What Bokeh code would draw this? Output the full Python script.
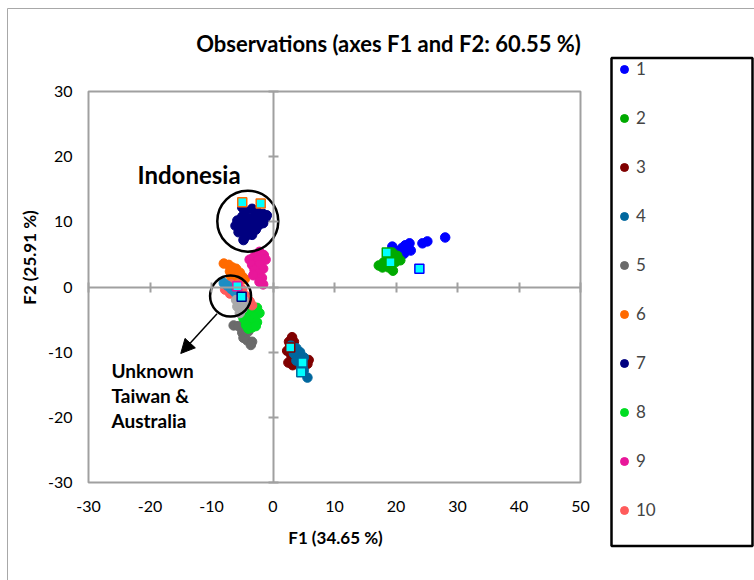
import math
from bokeh.plotting import figure
from bokeh.models import (Range1d, LinearAxis, FixedTicker, Label, Legend, LegendItem,
                          BoxAnnotation, Arrow, NormalHead, CustomJSTickFormatter)
from bokeh.embed import file_html
from bokeh.resources import INLINE

FONT = "Lato"

# ---- axis ticks ----
x_ticks = [-30, -20, -10, 0, 10, 20, 30, 40, 50]
y_ticks = [-30, -20, -10, 0, 10, 20, 30]
X_MIN, X_MAX = -30, 50
Y_MIN, Y_MAX = -30, 30

# ---- observations (F1, F2) per group ----
g1_x = [19.4, 20.2, 21.0, 21.3, 21.5, 22.2, 22.4, 24.3, 25.1, 28.0]
g1_y = [6.2, 5.5, 6.0, 5.1, 6.4, 6.7, 5.6, 6.7, 7.0, 7.6]

g2_x = [17.2, 17.8, 18.0, 18.8, 19.1, 19.4, 19.5, 19.9, 20.2, 20.7]
g2_y = [3.3, 3.0, 3.8, 3.0, 4.3, 5.3, 2.5, 3.8, 4.8, 4.1]

g3_x = [3.1, 2.6, 3.4, 2.3, 3.0, 2.5, 3.2, 5.8, 5.6]
g3_y = [-7.7, -8.4, -8.4, -9.8, -10.6, -11.6, -12.0, -11.2, -11.8]

g4_x = [2.9, 3.8, 4.4, 5.0, 4.0, 3.4, 3.8, 4.6, 5.0, 5.6, 4.4]
g4_y = [-9.0, -9.4, -10.0, -10.8, -10.6, -10.2, -11.3, -12.0, -12.8, -13.9, -11.0]

g5_x = [-6.4, -5.6, -4.6, -4.0, -5.0, -4.8, -4.2, -3.4, -3.6]
g5_y = [-5.9, -6.0, -6.4, -6.8, -7.0, -7.8, -8.2, -8.4, -8.9]

g6_x = [-8.0, -7.2, -6.6, -6.0, -7.0, -6.2, -5.4, -5.0, -4.6, -6.8, -5.8]
g6_y = [3.6, 3.4, 3.0, 2.8, 2.4, 2.0, 2.2, 1.6, 1.2, 1.6, 1.2]

g7_x = [-5.0, -4.6, -3.4, -2.6, -1.6, -1.2, -2.0, -3.0, -4.0, -5.0, -5.8, -6.1, -5.4,
        -4.4, -3.4, -2.4, -1.6, -2.8, -3.8, -4.8, -5.6, -4.4, -3.4, -4.8, -1.0]
g7_y = [12.2, 11.6, 12.0, 11.6, 11.2, 10.6, 10.2, 10.8, 10.6, 10.8, 10.2, 9.4, 9.6,
        9.8, 9.6, 9.4, 9.8, 8.8, 8.6, 8.8, 8.4, 7.8, 8.0, 7.2, 11.0]

g8_x = [-2.6, -3.4, -2.2, -4.2, -3.0, -4.8, -3.8, -2.6, -4.4, -3.4, -4.0, -2.8]
g8_y = [-3.2, -3.6, -4.0, -4.2, -4.6, -4.8, -5.2, -5.4, -5.8, -6.2, -6.4, -6.0]

g9_x = [-2.2, -1.5, -3.1, -3.8, -2.4, -1.2, -3.4, -2.2, -1.6, -3.0, -2.4, -3.2, -1.8, -2.2, -1.6]
g9_y = [5.4, 4.9, 4.6, 4.2, 4.2, 4.2, 3.4, 3.4, 2.8, 2.6, 2.0, 1.8, 1.4, 0.8, 0.4]

g10_x = [-7.8, -7.0, -6.4, -5.8, -5.0, -4.4, -3.8, -3.4, -6.8, -5.6]
g10_y = [-0.4, -1.0, -0.6, -1.0, -0.4, -1.4, -2.2, -2.8, 0.4, 0.4]

# unlabelled groups inside the "Unknown" ring
lb_x = [-8.0, -7.4, -6.8, -6.2]
lb_y = [0.6, 0.2, -0.3, -0.8]
lg_x = [-6.0, -5.4, -4.8, -5.8, -5.0, -5.4, -4.6]
lg_y = [-2.0, -2.4, -2.0, -3.0, -3.4, -4.0, -2.8]

# supplementary observations (square markers) and the group of their outline
sup_x = [-5.0, -2.0, 18.5, 19.1, 23.8, 2.8, 4.8, 4.6, -5.8, -5.1]
sup_y = [13.0, 12.8, 5.3, 3.8, 2.8, -9.3, -11.6, -13.1, 0.1, -1.5]
sup_group = [6, 6, 2, 2, 1, 3, 4, 4, 9, 7]

group_names = ["1", "2", "3", "4", "5", "6", "7", "8", "9", "10"]
group_colors = ["#0000FF", "#00AA00", "#800000", "#00679E", "#6B6B6B",
                "#FF6A00", "#000080", "#00DD22", "#E8179A", "#FF5B5B"]
groups_x = [g1_x, g2_x, g3_x, g4_x, g5_x, g6_x, g7_x, g8_x, g9_x, g10_x]
groups_y = [g1_y, g2_y, g3_y, g4_y, g5_y, g6_y, g7_y, g8_y, g9_y, g10_y]

# highlight rings: centre (F1, F2) and diameter in px
ring_indonesia = (-4.1, 10.1, 61)
ring_unknown = (-6.9, -1.4, 41)
arrow_from = (-9.1, -4.1)
arrow_to = (-15.0, -10.2)

# ---- page layout (canvas pixels) ----
W, H = 754, 580
AREA_L, AREA_R, AREA_T, AREA_B = 88, 580, 91, 482   # plot area inside the canvas
kx = (AREA_R - AREA_L) / (X_MAX - X_MIN)
ky = (AREA_B - AREA_T) / (Y_MAX - Y_MIN)


def cx(px):
    """canvas x pixel -> F1 value"""
    return X_MIN + (px - AREA_L) / kx


def cy(py):
    """canvas y pixel -> F2 value"""
    return Y_MAX - (py - AREA_T) / ky


GREY = "#A0A0A0"

p = figure(width=W, height=H,
           x_range=Range1d(cx(0), cx(W)), y_range=Range1d(cy(H), cy(0)),
           output_backend="svg", toolbar_location=None,
           x_axis_location=None, y_axis_location=None, min_border=0)
p.xgrid.visible = False
p.ygrid.visible = False
p.outline_line_color = None
p.background_fill_color = "white"
p.border_fill_color = "white"

# outer chart frame, plot-area frame, legend box
p.add_layout(BoxAnnotation(left=cx(7), right=cx(W + 20), top=cy(8), bottom=cy(H + 20),
                           fill_alpha=0, line_color="#A8A8A8", line_alpha=1, line_width=1))
p.add_layout(BoxAnnotation(left=X_MIN, right=X_MAX, top=Y_MAX, bottom=Y_MIN,
                           fill_alpha=0, line_color=GREY, line_alpha=1, line_width=2))
p.add_layout(BoxAnnotation(left=cx(611), right=cx(752), top=cy(57.5), bottom=cy(545.5),
                           fill_alpha=0, line_color="black", line_alpha=1, line_width=2.5))

plain = CustomJSTickFormatter(code="return tick.toString()")
blank = CustomJSTickFormatter(code="return ''")

# tick labels along the left and bottom edges of the plot area
left_ax = LinearAxis(fixed_location=X_MIN, bounds=(Y_MIN, Y_MAX),
                     ticker=FixedTicker(ticks=y_ticks), formatter=plain,
                     axis_line_color=None, major_tick_line_color=None,
                     minor_tick_line_color=None, major_tick_out=0, major_tick_in=0,
                     major_label_text_font=FONT, major_label_text_font_size="16px",
                     major_label_text_color="black", major_label_standoff=16)
p.add_layout(left_ax, "left")
bottom_ax = LinearAxis(fixed_location=Y_MIN, bounds=(X_MIN, X_MAX),
                       ticker=FixedTicker(ticks=x_ticks), formatter=plain,
                       axis_line_color=None, major_tick_line_color=None,
                       minor_tick_line_color=None, major_tick_out=0, major_tick_in=0,
                       major_label_text_font=FONT, major_label_text_font_size="16px",
                       major_label_text_color="black", major_label_standoff=18)
p.add_layout(bottom_ax, "below")

# axes crossing at the origin, ticked but unlabelled
zero_y = LinearAxis(fixed_location=0, bounds=(Y_MIN, Y_MAX),
                    ticker=FixedTicker(ticks=y_ticks), formatter=blank,
                    axis_line_color=GREY, axis_line_width=2,
                    major_tick_line_color=GREY, major_tick_line_width=2,
                    major_tick_in=5, major_tick_out=5, minor_tick_line_color=None)
p.add_layout(zero_y, "left")
zero_x = LinearAxis(fixed_location=0, bounds=(X_MIN, X_MAX),
                    ticker=FixedTicker(ticks=x_ticks), formatter=blank,
                    axis_line_color=GREY, axis_line_width=2,
                    major_tick_line_color=GREY, major_tick_line_width=2,
                    major_tick_in=5, major_tick_out=5, minor_tick_line_color=None)
p.add_layout(zero_x, "below")

# observation groups
renderers = []
for gx, gy, col in zip(groups_x, groups_y, group_colors):
    r = p.scatter(gx, gy, size=9.5, fill_color=col, line_color=col)
    renderers.append(r)
p.scatter(lb_x, lb_y, size=9.5, fill_color="#1C8DC4", line_color="#1C8DC4")
p.scatter(lg_x, lg_y, size=9.5, fill_color="#A9A9A9", line_color="#A9A9A9")

sup_edges = [group_colors[g - 1] for g in sup_group]
p.scatter(sup_x, sup_y, marker="square", size=9, fill_color="#00FFFF",
          line_color=sup_edges, line_width=1.5)

# highlight rings and arrow
for rx, ry, d in (ring_indonesia, ring_unknown):
    p.scatter([rx], [ry], marker="circle", size=d, fill_color=None,
              line_color="black", line_width=2.5)
p.add_layout(Arrow(end=NormalHead(size=14, fill_color="black", line_color="black"),
                   x_start=arrow_from[0], y_start=arrow_from[1],
                   x_end=arrow_to[0], y_end=arrow_to[1],
                   line_color="black", line_width=1.5))


def bold_label(x, y, text, size, **kw):
    p.add_layout(Label(x=x, y=y, text=text, text_font=FONT, text_font_style="bold",
                       text_font_size=size, text_color="black", **kw))


bold_label(cx(137), cy(174), "Indonesia", "24px", text_baseline="alphabetic")
bold_label(cx(111), cy(370), "Unknown", "19px", text_baseline="alphabetic")
bold_label(cx(111), cy(395), "Taiwan &", "19px", text_baseline="alphabetic")
bold_label(cx(111), cy(420), "Australia", "19px", text_baseline="alphabetic")

# title and axis titles
bold_label(cx(388), cy(43), "Observations (axes F1 and F2: 60.55 %)", "22px",
           text_align="center", text_baseline="middle")
bold_label(cx(335), cy(537), "F1 (34.65 %)", "17px", text_align="center", text_baseline="middle")
bold_label(cx(29), cy(257), "F2 (25.91 %)", "17px", text_align="center", text_baseline="middle",
           angle=math.pi / 2)

# legend: first entry centred at y=70, entries about 49 px apart
legend = Legend(items=[LegendItem(label=n, renderers=[r]) for n, r in zip(group_names, renderers)],
                location=(614, H - 520), orientation="vertical", border_line_color=None,
                background_fill_alpha=0, padding=5, margin=0, spacing=28,
                glyph_width=20, glyph_height=20, label_height=20, label_standoff=2,
                label_text_font=FONT, label_text_font_size="17px")
p.add_layout(legend)

open("out.html", "w").write(file_html(p, INLINE))
